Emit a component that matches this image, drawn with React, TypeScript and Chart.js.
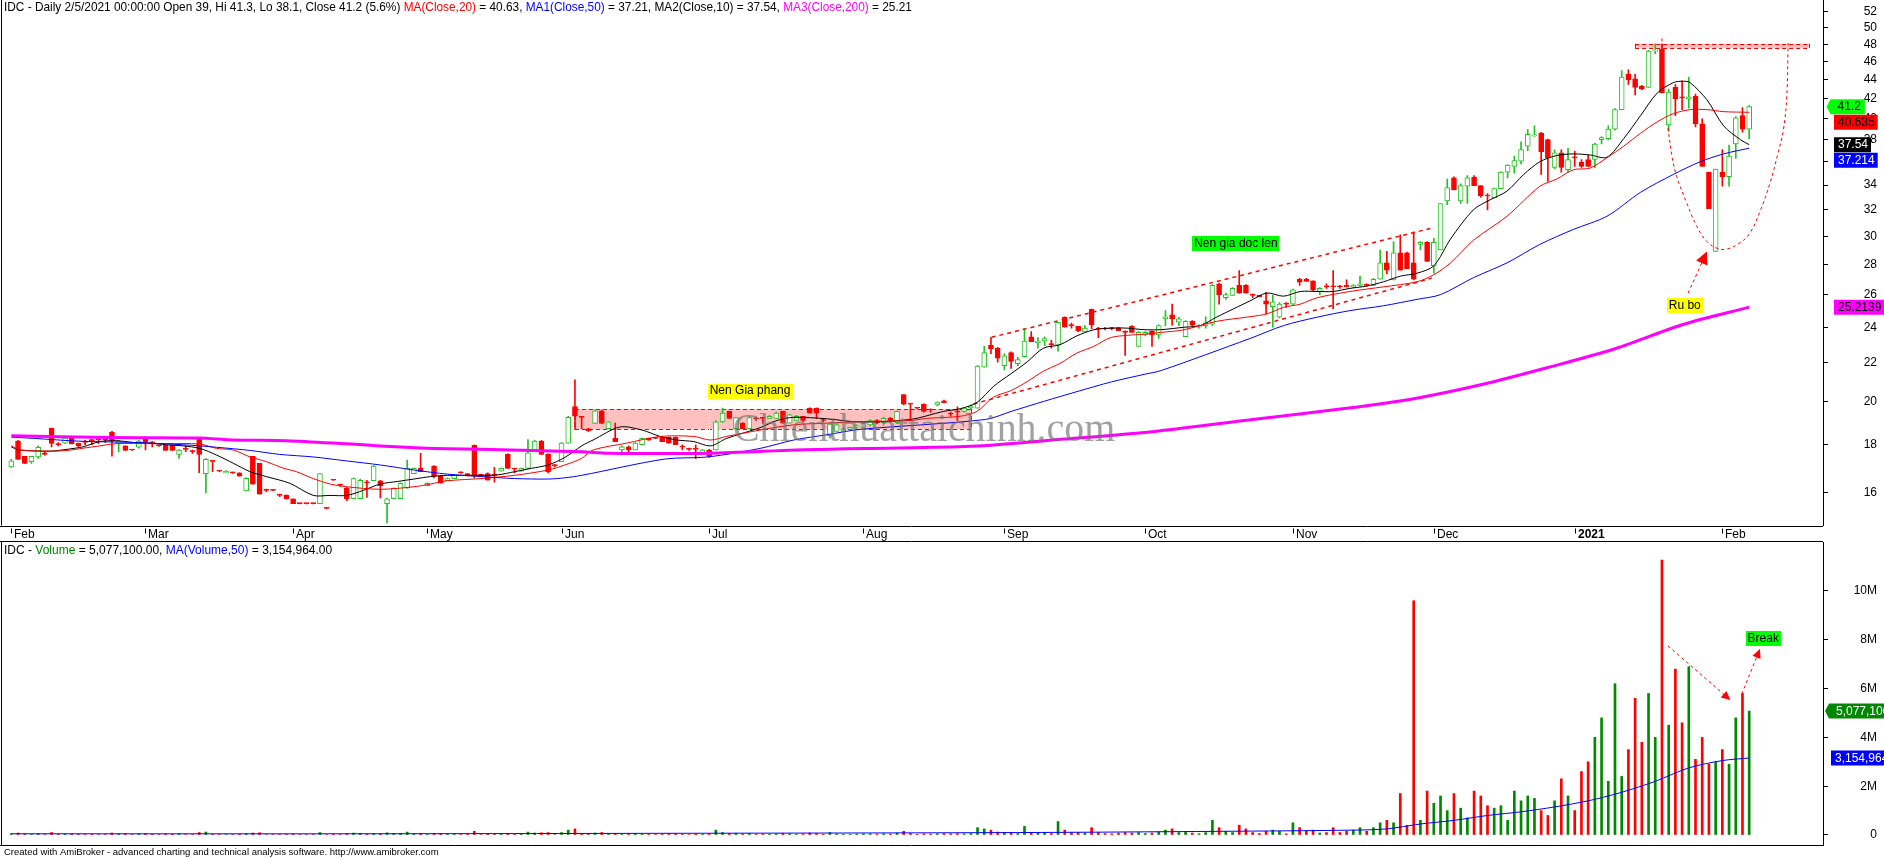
import React, { useEffect, useRef } from 'react';
import { Chart, registerables } from 'chart.js';
Chart.register(...registerables);

const FONT = '"Liberation Sans", Arial, Helvetica, sans-serif';

// ---------- DATA ----------
const opens = [17.05,18.16,17.5,17.27,17.47,17.65,18.75,18.05,18.07,18.29,18.07,18.12,18.2,18.25,18.25,18.57,18.04,17.95,17.78,17.89,
18.32,18.1,17.96,17.99,17.99,17.58,17.82,17.72,18.28,16.77,17.3,16.88,16.8,16.81,16.8,16.08,17.5,17.2,16.12,16.11,
15.92,15.9,15.77,15.59,15.59,15.59,15.58,15.41,16.51,16.32,16.18,15.77,15.77,16.42,16.48,16.48,15.58,15.77,15.77,16.18,
16.77,16.99,16.28,17.08,16.68,16.48,16.57,16.82,16.77,17.99,16.72,16.77,16.72,16.87,17.58,16.97,16.87,16.99,17.75,18.16,
17.58,17.12,17.27,18.07,19.77,19.3,18.72,18.96,19.56,18.72,18.28,17.77,17.91,17.77,18.0,18.28,18.29,18.33,18.33,18.33,
17.92,17.82,17.82,17.63,17.77,17.77,19.04,19.53,18.72,18.98,18.72,19.2,19.22,19.2,19.2,19.53,18.98,19.1,19.3,19.69,
19.69,19.15,18.4,18.6,18.6,18.7,18.8,18.75,18.9,19.1,19.0,19.2,19.0,20.35,19.9,19.7,19.88,19.62,19.85,20.05,
19.42,19.52,19.53,19.7,19.69,21.77,22.97,22.8,21.85,22.56,21.95,22.33,23.45,23.1,23.21,23.02,22.97,24.6,24.12,24.05,
23.73,25.08,23.92,23.92,23.95,23.97,23.78,24.05,22.9,23.55,23.78,23.55,24.5,24.75,24.3,23.45,24.35,24.0,24.1,24.18,
26.7,25.8,25.95,26.6,26.6,25.97,25.95,25.6,25.25,24.6,25.42,25.4,27.0,27.0,26.9,26.2,26.52,26.52,26.52,26.6,
26.5,26.6,26.62,26.6,27.0,28.1,26.95,28.8,28.8,28.1,29.4,29.55,27.9,29.0,32.7,34.6,32.7,33.9,34.65,33.95,
33.12,32.95,33.7,35.1,35.6,36.05,37.4,38.35,38.6,38.0,35.5,36.8,35.3,36.4,35.95,36.2,36.2,38.0,38.1,39.0,
40.9,44.6,44.1,43.3,43.2,47.2,47.4,39.4,43.2,42.15,42.0,42.25,39.5,35.1,28.9,35.1,34.7,37.6,40.3,39];
const highs = [17.37,18.2,17.5,17.5,17.95,17.68,18.75,18.1,18.32,18.3,18.07,18.2,18.24,18.3,18.3,18.6,18.2,17.95,17.8,18.2,
18.34,18.14,17.98,18.0,18.0,17.8,17.95,17.77,18.3,17.4,17.3,16.9,16.9,16.83,16.8,16.6,17.5,17.2,16.15,16.12,
15.95,15.92,15.77,15.6,15.6,15.6,16.77,15.42,16.52,16.35,16.22,16.6,16.55,16.5,17.1,16.5,15.8,16.2,16.4,17.34,
17.0,17.63,16.4,17.1,16.7,16.6,16.72,16.85,16.77,17.99,16.75,16.8,17.03,17.0,17.6,17.0,17.0,18.23,18.2,18.2,
17.6,17.15,18.1,19.3,21.1,19.3,18.75,19.6,19.6,19.05,18.98,17.95,17.95,18.1,18.3,18.3,18.3,18.35,18.35,18.35,
18.0,17.85,18.0,17.8,17.8,19.1,19.69,19.55,19.25,19.0,19.3,19.25,19.25,19.35,19.5,19.55,19.4,19.35,19.3,19.7,
19.7,19.2,18.95,18.95,18.75,18.8,18.9,19.0,19.15,19.15,19.25,19.25,19.55,20.35,19.9,19.72,19.9,19.65,20.0,20.08,
19.5,19.75,19.72,19.85,21.85,22.9,23.42,22.85,22.5,22.6,22.3,23.93,23.75,23.4,23.45,23.25,24.3,24.62,24.25,24.05,
24.1,25.1,24.0,24.0,24.0,24.0,23.8,24.1,23.75,23.75,23.8,24.15,25.0,25.4,24.6,24.4,24.4,24.15,24.63,26.65,
26.75,26.1,26.45,27.57,26.65,26.05,25.95,26.15,25.95,25.5,25.5,26.35,27.05,27.05,26.9,26.45,26.7,27.57,26.6,26.96,
26.65,27.2,26.7,27.05,29.0,28.9,29.6,30.1,28.85,30.3,29.6,29.6,29.85,32.5,34.5,34.7,34.1,34.8,34.8,33.95,
33.3,33.75,35.15,35.75,36.5,37.8,38.94,39.3,38.7,38.05,37.07,37.07,37.2,36.95,36.2,36.6,37.65,38.3,39.3,41.0,
45.0,45.1,44.6,43.4,47.3,48.06,48.0,43.0,43.5,43.9,44.3,42.5,40.0,35.1,35.35,37.1,37.5,40.2,41.1,41.3];
const lows = [17.03,17.37,17.2,17.2,17.41,17.55,17.9,17.95,18.05,18.04,17.9,18.0,18.0,18.05,18.1,17.5,17.69,17.75,17.75,17.85,
17.77,17.9,17.93,17.75,17.75,17.41,17.7,17.62,16.81,16.0,16.85,16.85,16.8,16.78,16.67,16.08,16.34,15.95,16.05,16.09,
15.85,15.75,15.58,15.57,15.57,15.57,15.58,15.38,16.49,16.25,15.7,15.77,15.77,15.82,16.48,15.8,14.86,15.77,15.77,16.18,
16.77,16.85,16.28,16.6,16.38,16.48,16.57,16.78,16.68,16.6,16.65,16.5,16.42,16.87,16.99,16.8,16.87,16.99,17.75,17.58,
16.8,17.05,17.27,18.07,18.69,18.72,18.6,18.96,18.96,18.72,18.14,17.7,17.6,17.77,18.0,18.2,18.27,18.14,18.07,18.0,
17.77,17.75,17.4,17.63,17.45,17.77,19.0,19.2,18.72,18.72,18.72,19.1,18.98,19.2,19.2,18.98,18.98,19.1,19.05,19.45,
19.2,19.05,18.3,18.6,18.6,18.7,18.75,18.75,18.85,18.95,18.95,19.05,18.95,19.85,19.1,19.65,19.5,19.5,19.8,19.95,
19.3,19.1,19.5,19.65,19.69,21.77,22.5,22.04,21.62,21.7,21.85,22.3,23.17,22.8,22.95,22.8,22.63,24.0,23.95,23.75,
23.73,23.9,23.4,23.85,23.85,23.8,22.4,23.7,22.9,23.5,22.9,23.35,24.1,24.13,24.1,23.45,24.05,23.95,23.95,24.1,
25.4,25.7,25.95,26.1,26.1,25.8,25.85,24.8,24.0,24.55,25.2,25.35,26.6,26.85,26.25,26.0,26.4,25.1,26.4,26.5,
26.45,26.55,26.55,26.6,27.0,27.35,26.95,27.6,27.7,26.95,29.0,28.2,27.4,29.0,32.4,33.6,32.5,32.5,33.95,33.0,
32.0,32.95,33.7,34.6,35.0,35.8,37.0,38.3,34.9,34.3,35.4,35.1,35.1,35.6,35.5,35.6,35.45,37.6,38.0,38.9,
40.9,43.5,42.4,42.95,43.2,46.9,42.6,38.8,40.3,40.9,41.05,39.2,35.6,32.1,28.9,33.9,33.9,36.3,38.7,38.1];
const closes = [17.3,17.37,17.2,17.5,17.89,17.58,18.06,18.0,18.3,18.04,17.95,18.1,18.18,18.22,18.22,18.16,18.16,17.75,17.77,18.16,
18.12,18.08,17.95,17.75,17.75,17.77,17.8,17.7,17.58,17.37,17.28,16.87,16.87,16.8,16.67,16.58,16.34,15.95,16.1,16.1,
15.9,15.77,15.58,15.58,15.58,15.58,16.77,15.4,16.5,16.3,15.77,16.57,16.5,16.4,17.08,16.28,15.77,16.18,16.38,16.99,
16.99,16.85,16.38,16.68,16.38,16.57,16.7,16.8,16.68,16.68,16.7,16.5,16.7,16.99,16.99,16.95,16.99,17.65,18.16,17.58,
16.85,17.1,18.07,19.25,19.31,19.25,18.63,19.56,18.96,19.04,18.14,17.91,17.77,18.07,18.28,18.2,18.28,18.14,18.07,18.0,
17.9,17.8,17.8,17.77,17.49,19.04,19.45,19.2,19.24,18.72,19.24,19.18,19.2,19.3,19.45,18.98,19.37,19.3,19.1,19.45,
19.45,19.1,18.93,18.9,18.7,18.78,18.85,18.98,19.1,19.0,19.2,19.1,19.53,19.88,19.88,19.69,19.53,19.6,19.98,19.95,
19.4,19.5,19.69,19.8,21.83,22.56,22.78,22.25,22.38,22.08,22.17,23.21,23.17,23.21,23.35,23.0,24.3,24.0,24.1,23.8,
23.95,24.16,23.9,23.9,23.92,23.8,23.7,23.7,23.7,23.7,23.55,24.1,24.63,24.5,24.5,24.35,24.13,24.1,24.27,26.6,
26.0,26.0,26.4,26.1,26.1,25.95,25.85,25.4,25.55,25.4,25.4,26.3,26.8,26.85,26.3,26.4,26.5,26.5,26.5,26.5,
26.6,26.7,26.6,27.0,28.1,27.6,28.8,27.6,27.7,27.0,29.55,28.2,29.55,32.5,33.8,33.6,33.95,34.6,33.95,33.1,
33.1,33.7,35.1,35.7,36.1,37.1,38.5,38.45,36.9,36.35,36.8,35.5,36.2,36.35,35.6,35.6,37.6,38.2,39.0,40.9,
44.3,44.0,43.2,43.0,47.2,47.3,42.6,42.7,42.0,42.1,42.2,39.5,35.6,32.1,35.35,34.7,36.5,40.1,39.0,41.2];
// volume in millions of shares
const volumesM = [0.05,0.08,0.04,0.03,0.06,0.02,0.1,0.03,0.04,0.05,0.03,0.02,0.03,0.02,0.02,0.08,0.04,0.05,0.02,0.04,
0.06,0.03,0.02,0.04,0.03,0.05,0.02,0.02,0.1,0.12,0.03,0.02,0.02,0.02,0.03,0.06,0.08,0.09,0.02,0.02,
0.02,0.03,0.04,0.02,0.02,0.02,0.1,0.02,0.03,0.02,0.05,0.08,0.07,0.04,0.06,0.05,0.09,0.06,0.07,0.12,
0.04,0.06,0.03,0.07,0.06,0.03,0.03,0.02,0.03,0.15,0.02,0.05,0.04,0.03,0.07,0.03,0.03,0.12,0.08,0.09,
0.1,0.02,0.1,0.2,0.25,0.06,0.04,0.08,0.1,0.05,0.06,0.04,0.05,0.06,0.05,0.03,0.02,0.04,0.05,0.05,
0.03,0.02,0.05,0.03,0.05,0.2,0.1,0.06,0.07,0.04,0.06,0.03,0.04,0.03,0.05,0.07,0.05,0.03,0.04,0.08,
0.06,0.03,0.1,0.05,0.03,0.03,0.04,0.05,0.05,0.04,0.05,0.04,0.08,0.15,0.06,0.03,0.05,0.04,0.05,0.06,
0.05,0.06,0.05,0.06,0.3,0.25,0.2,0.12,0.1,0.1,0.06,0.35,0.1,0.08,0.1,0.06,0.55,0.2,0.1,0.1,
0.08,0.3,0.1,0.06,0.05,0.08,0.1,0.08,0.1,0.06,0.08,0.12,0.2,0.25,0.1,0.15,0.08,0.05,0.1,0.6,
0.3,0.15,0.1,0.4,0.25,0.1,0.06,0.15,0.2,0.15,0.05,0.5,0.3,0.15,0.2,0.08,0.1,0.3,0.1,0.15,
0.2,0.3,0.15,0.3,0.5,0.6,0.5,1.7,0.4,9.6,0.6,1.8,1.3,1.6,1.0,1.7,1.1,0.7,1.8,1.6,
1.2,1.1,1.2,0.6,1.8,1.4,1.6,1.5,1.0,0.8,1.4,2.3,1.6,1.0,2.6,3.0,4.0,4.8,2.2,6.2,
2.4,3.5,5.6,3.8,5.8,4.0,11.27,4.5,6.8,4.6,6.9,3.1,4.0,2.9,3.0,3.5,2.9,4.8,5.8,5.0771];

// moving averages sampled along the curves: [bar index, value]
const ma10Points = [[0,17.9],[1.3,17.77],[5.8,17.72],[8.3,17.8],[10.7,17.91],[13.2,18.14],[15.7,18.18],[18.2,18.1],[20.7,18.07],[23.1,18.0],[25.6,17.95],[28.1,17.84],[30.6,17.55],[33.1,17.2],[35.6,16.85],[38,16.65],[41.5,16.38],[45,15.9],[47.5,15.9],[50,15.9],[52.5,16.1],[55,16.35],[57.5,16.45],[60,16.55],[62.5,16.65],[65,16.7],[70,16.7],[72.5,16.72],[75,16.85],[77.5,16.99],[80,17.13],[82.5,17.45],[85,17.95],[86.7,18.21],[90.7,18.8],[94,18.66],[96.7,18.37],[99.2,18.21],[101.7,18.14],[104.2,17.95],[106.6,18.28],[111.6,18.77],[114.1,19.1],[116.6,19.25],[121.6,19.18],[126.5,19.03],[134,19.15],[138.9,19.53],[141.4,19.66],[143.9,19.96],[146.4,20.77],[148.9,21.4],[151.4,22.05],[153.8,22.8],[156.3,23.0],[158.8,23.5],[161.3,23.85],[163.8,23.95],[166.3,23.95],[168.8,23.86],[171.3,23.86],[174.7,24.0],[177.2,24.1],[179.6,24.6],[182.1,25.1],[184.6,25.6],[187.1,26.1],[189.6,25.9],[192.1,26.2],[194.6,26.2],[197,26.2],[199.5,26.4],[202,26.55],[204.5,26.83],[207,27.2],[209.5,27.4],[212,27.9],[214.5,29.8],[217.9,32.0],[220.4,32.8],[222.9,33.5],[225.4,34.9],[227.8,36.0],[230.3,36.55],[232.8,36.7],[235.3,36.6],[237.8,36.4],[240.3,38.1],[242.8,40.3],[245.3,42.6],[247.7,43.7],[249.2,43.85],[250.2,43.7],[252.7,41.9],[255.2,39.3],[257.7,38.0],[259,37.54]];
const ma20Points = [[0,17.95],[1.3,17.77],[5.8,17.72],[8.3,17.75],[10.7,17.85],[13.2,17.95],[15.7,18.05],[20.7,18.05],[23.1,18.05],[28.1,18.03],[30.6,17.84],[33.1,17.77],[35.6,17.47],[38,17.27],[40.5,17.0],[42.5,16.85],[45,16.57],[47.5,16.35],[50,16.24],[55,16.14],[60,16.24],[62.5,16.35],[65,16.48],[70,16.57],[75,16.7],[80,16.92],[82.5,17.13],[85,17.41],[86.7,17.77],[91.7,18.07],[96.7,18.37],[101.7,18.37],[104.2,18.21],[106.6,18.37],[111.6,18.66],[116.6,18.9],[121.6,18.98],[126.5,19.05],[134,19.1],[136.4,19.2],[141.4,19.3],[143.9,19.53],[146.4,20.23],[148.9,20.54],[151.4,21.01],[153.8,21.55],[156.3,21.97],[158.8,22.53],[161.3,22.9],[163.8,23.4],[166.3,23.53],[168.8,23.6],[171.3,23.7],[174.7,23.85],[179.6,24.35],[184.6,24.63],[187.1,24.8],[189.6,25.2],[192.1,25.4],[194.6,25.8],[199.5,26.2],[204.5,26.5],[209.5,26.83],[212,27.3],[214.5,28.1],[217.9,29.7],[222.9,31.5],[227.8,33.9],[230.3,34.5],[232.8,35.3],[235.3,35.45],[237.8,36.35],[240.3,37.4],[242.8,38.6],[245.3,39.7],[247.7,40.5],[250.2,40.9],[252.7,40.9],[255.2,40.7],[259,40.635]];
const ma50Points = [[0,18.34],[3.5,18.28],[10,18.16],[18.2,18.1],[25.6,18.0],[30.6,17.89],[35.6,17.75],[40,17.58],[45,17.47],[50,17.3],[55,17.13],[60,16.92],[65,16.75],[70,16.65],[75,16.57],[80,16.55],[82.5,16.6],[85,16.7],[97.4,17.38],[103.8,17.47],[111.6,17.84],[116.6,18.21],[121.6,18.45],[126.5,18.69],[145.2,19.15],[149,19.53],[154,20.03],[159,20.52],[164,21.0],[169,21.4],[171.3,21.58],[184.6,23.35],[189.6,24.1],[194.6,24.6],[199.5,25.0],[204.5,25.3],[209.5,25.7],[213,26.0],[217.9,27.1],[222.9,28.1],[227.8,29.4],[232.8,30.5],[237.8,31.5],[242.8,33.4],[247.7,34.9],[251.7,36.0],[255.2,36.7],[259,37.214]];
const ma200Points = [[0,18.4],[15,18.32],[28,18.3],[33,18.21],[41,18.18],[50,18.04],[55,17.95],[61,17.86],[65,17.82],[70,17.8],[85,17.69],[89,17.63],[104,17.63],[117,17.77],[122,17.8],[127,17.84],[143,17.93],[157,18.25],[171,18.62],[185,19.15],[199,19.68],[209,20.15],[219,20.85],[229,21.75],[239,22.77],[249,24.15],[259,25.2139]];
const volMaPoints = [[0,0.05],[50,0.05],[100,0.07],[150,0.1],[180,0.15],[200,0.2],[205,0.25],[210,0.45],[215,0.6],[220,0.8],[225,0.95],[230,1.15],[235,1.4],[240,1.75],[245,2.2],[250,2.75],[255,3.05],[259,3.154964]];

const monthTickIdx = [0,20,42,62,82,104,127,148,169,191,212,233,255];
const monthLabels = ['Feb','Mar','Apr','May','Jun','Jul','Aug','Sep','Oct','Nov','Dec','2021','Feb'];
const priceTicks = [16,18,20,22,24,26,28,30,32,34,36,38,40,42,44,46,48,50,52];
const volumeTicks = [0,2,4,6,8,10];
const volumeTickLabels = ['0','2M','4M','6M','8M','10M'];

// annotations (bar index, price)
const flatZone = { i0: 84, i1: 143, top: 19.65, bottom: 18.69 };
const topZone = { i0: 242, i1: 267.9, top: 48.06, bottom: 47.56 };
const channelUpper = [[146.1,23.42],[211.7,30.6]];
const channelLower = [[143.4,19.89],[211.7,27.07]];
const cupPoints = [[246.9,39.1],[247.5,36.47],[248.2,34.73],[249.7,32.53],[251.2,30.72],[252.7,29.61],[254.2,29.13],[255.6,29.06],[257.6,29.51],[259.1,30.22],[260.6,31.86],[262.1,34.17],[263.3,36.78],[264.1,38.94],[264.6,42.25],[264.8,48.14]];
const peakMark = [[246,48.7],[246,47.4]];
const ruBoArrow = [[249.9,26.09],[252.7,28.9]];
const priceNotes = [
  { text: 'Nen Gia phang', i: 110.1, v: 20.55, bg: '#ffff00' },
  { text: 'Nen gia doc len', i: 182.5, v: 29.49, bg: '#00ff00' },
  { text: 'Ru bo', i: 249.4, v: 25.32, bg: '#ffff00' },
];
const volNotes = [{ text: 'Break', i: 261.1, v: 8.07, bg: '#00ff00' }];
const volArrow1 = [[246.9,7.75],[256.2,5.53]];
const volArrow2 = [[257.9,5.78],[260.6,7.62]];

// ---------- LAYOUT CONSTANTS ----------
const W = 1884;
const PRICE_H = 542;
const VOL_H = 317;
const X_MIN = -1.535, X_MAX = 270.0;
const P_MIN = 14.77, P_MAX = 53.5;
const V_MIN = -0.41, V_MAX = 12.008;
const GREEN = '#22c322';
const RED = '#ff0000';
const VGREEN = '#008800';

const pts = (a: number[][]) => a.map(([x, y]) => ({ x, y }));
const lastOf = (a: number[][]) => a[a.length - 1][1];

function drawTag(ctx: any, text: string, yc: number, bg: string, fg: string, x0: number, arrow: boolean) {
  ctx.save();
  ctx.font = '12px ' + FONT;
  const tw = ctx.measureText(text).width;
  const h = 15;
  ctx.fillStyle = bg;
  ctx.beginPath();
  if (arrow) {
    const bx = x0 + 4;
    ctx.moveTo(x0, yc);
    ctx.lineTo(bx, yc - h / 2);
    ctx.lineTo(bx + tw + 11, yc - h / 2);
    ctx.lineTo(bx + tw + 11, yc + h / 2);
    ctx.lineTo(bx, yc + h / 2);
    ctx.closePath();
    ctx.fill();
    ctx.fillStyle = fg;
    ctx.textBaseline = 'middle';
    ctx.fillText(text, bx + 7, yc + 0.5);
  } else {
    ctx.rect(x0, yc - h / 2, tw + 7, h);
    ctx.fill();
    ctx.fillStyle = fg;
    ctx.textBaseline = 'middle';
    ctx.fillText(text, x0 + 4, yc + 0.5);
  }
  ctx.restore();
}

function drawNote(ctx: any, n: any, x: number, y: number) {
  ctx.save();
  ctx.font = '12px ' + FONT;
  const tw = ctx.measureText(n.text).width;
  ctx.fillStyle = n.bg;
  ctx.fillRect(Math.round(x - tw / 2 - 2), Math.round(y - 7), Math.round(tw + 4), 15);
  ctx.fillStyle = '#000';
  ctx.textBaseline = 'middle';
  ctx.textAlign = 'center';
  ctx.fillText(n.text, x, y + 0.5);
  ctx.restore();
}

function arrowHead(ctx: any, x0: number, y0: number, x1: number, y1: number, size: number) {
  const a = Math.atan2(y1 - y0, x1 - x0);
  ctx.save();
  ctx.fillStyle = RED;
  ctx.beginPath();
  ctx.moveTo(x1, y1);
  ctx.lineTo(x1 - size * Math.cos(a - 0.45), y1 - size * Math.sin(a - 0.45));
  ctx.lineTo(x1 - size * Math.cos(a + 0.45), y1 - size * Math.sin(a + 0.45));
  ctx.closePath();
  ctx.fill();
  ctx.restore();
}

function drawSegments(ctx: any, parts: [string, string][], x: number, y: number) {
  let cx = x;
  for (const [t, c] of parts) {
    ctx.fillStyle = c;
    ctx.fillText(t, cx, y);
    cx += ctx.measureText(t).width;
  }
}

const priceExtras = {
  id: 'priceExtras',
  beforeDatasetsDraw(chart: any) {
    const { ctx, chartArea: a, scales: { x, y } } = chart;
    ctx.save();
    for (const z of [flatZone, topZone]) {
      const x0 = x.getPixelForValue(z.i0), x1 = x.getPixelForValue(z.i1);
      const y0 = y.getPixelForValue(z.top), y1 = y.getPixelForValue(z.bottom);
      ctx.fillStyle = '#ffc0c0';
      ctx.fillRect(x0, y0, x1 - x0, y1 - y0);
      ctx.strokeStyle = RED;
      ctx.lineWidth = 1;
      ctx.setLineDash([4, 3]);
      ctx.beginPath();
      ctx.moveTo(x0, Math.round(y0) + 0.5); ctx.lineTo(x1, Math.round(y0) + 0.5);
      ctx.moveTo(x0, Math.round(y1) + 0.5); ctx.lineTo(x1, Math.round(y1) + 0.5);
      ctx.moveTo(Math.round(x0) + 0.5, y0); ctx.lineTo(Math.round(x0) + 0.5, y1);
      ctx.moveTo(Math.round(x1) + 0.5, y0); ctx.lineTo(Math.round(x1) + 0.5, y1);
      ctx.stroke();
    }
    // month separators (white dotted, visible only over the shaded zones)
    ctx.strokeStyle = '#ffffff';
    ctx.setLineDash([1, 2]);
    ctx.beginPath();
    for (const mi of monthTickIdx) {
      const px = Math.round(x.getPixelForValue(mi)) + 0.5;
      ctx.moveTo(px, a.top); ctx.lineTo(px, a.bottom);
    }
    ctx.stroke();
    ctx.restore();
  },
  afterDatasetsDraw(chart: any) {
    const { ctx, scales: { x, y } } = chart;
    ctx.save();
    ctx.font = '36px "Liberation Serif", "Times New Roman", serif';
    const wm = 'Chienthuattaichinh.com';
    const ww = ctx.measureText(wm).width;
    const fs = 36 * 382 / ww;
    ctx.font = fs.toFixed(1) + 'px "Liberation Serif", "Times New Roman", serif';
    ctx.fillStyle = 'rgba(110,110,110,0.65)';
    ctx.textBaseline = 'middle';
    ctx.fillText(wm, 733, 431);
    for (const n of priceNotes) drawNote(ctx, n, x.getPixelForValue(n.i), y.getPixelForValue(n.v));
    arrowHead(ctx, x.getPixelForValue(ruBoArrow[0][0]), y.getPixelForValue(ruBoArrow[0][1]),
      x.getPixelForValue(ruBoArrow[1][0]), y.getPixelForValue(ruBoArrow[1][1]), 14);
    ctx.restore();
  },
  afterDraw(chart: any) {
    const { ctx, chartArea: a, scales: { x, y } } = chart;
    ctx.save();
    ctx.strokeStyle = '#000';
    ctx.lineWidth = 1;
    ctx.beginPath();
    ctx.moveTo(1.5, 0); ctx.lineTo(1.5, a.bottom);
    ctx.moveTo(0, Math.round(a.bottom) + 0.5); ctx.lineTo(a.right, Math.round(a.bottom) + 0.5);
    ctx.moveTo(0, PRICE_H - 0.5); ctx.lineTo(a.right, PRICE_H - 0.5);
    ctx.stroke();
    ctx.font = '12px ' + FONT;
    ctx.textBaseline = 'middle';
    monthTickIdx.forEach((mi, k) => {
      const px = Math.round(x.getPixelForValue(mi)) + 0.5;
      ctx.beginPath();
      ctx.moveTo(px, a.bottom + 3); ctx.lineTo(px, a.bottom + 8);
      ctx.stroke();
      ctx.font = (monthLabels[k] === '2021' ? 'bold ' : '') + '12px ' + FONT;
      ctx.fillStyle = '#000';
      ctx.fillText(monthLabels[k], px + 2.5, a.bottom + 9);
    });
    const L = closes.length - 1;
    const chg = ((closes[L] / closes[L - 1] - 1) * 100).toFixed(1);
    ctx.font = '11.85px ' + FONT;
    ctx.textBaseline = 'middle';
    drawSegments(ctx, [
      [`IDC - Daily 2/5/2021 00:00:00 Open ${opens[L]}, Hi ${highs[L]}, Lo ${lows[L]}, Close ${closes[L]} (${chg}%) `, '#000'],
      ['MA(Close,20)', RED], [` = ${lastOf(ma20Points).toFixed(2)}, `, '#000'],
      ['MA1(Close,50)', '#0000ff'], [` = ${lastOf(ma50Points).toFixed(2)}, `, '#000'],
      ['MA2(Close,10)', '#000'], [` = ${lastOf(ma10Points).toFixed(2)}, `, '#000'],
      ['MA3(Close,200)', '#ff00ff'], [` = ${lastOf(ma200Points).toFixed(2)}`, '#000'],
    ], 4, 8);
    const tags = [
      { v: closes[L], t: String(closes[L]), bg: '#00ff00', fg: '#000', arrow: true },
      { v: lastOf(ma20Points), t: String(lastOf(ma20Points)), bg: RED, fg: '#000', arrow: false },
      { v: lastOf(ma10Points), t: String(lastOf(ma10Points)), bg: '#000', fg: '#fff', arrow: false },
      { v: lastOf(ma50Points), t: String(lastOf(ma50Points)), bg: '#0000ff', fg: '#fff', arrow: false },
      { v: lastOf(ma200Points), t: String(lastOf(ma200Points)), bg: '#ff00ff', fg: '#000', arrow: false },
    ];
    let prev = -100;
    for (const tg of tags) {
      let yc = y.getPixelForValue(tg.v);
      if (yc < prev + 15.5) yc = prev + 15.5;
      prev = yc;
      drawTag(ctx, tg.t, yc, tg.bg, tg.fg, tg.arrow ? 1826.5 : 1834, tg.arrow);
    }
    ctx.restore();
  },
};

const volExtras = {
  id: 'volExtras',
  afterDatasetsDraw(chart: any) {
    const { ctx, scales: { x, y } } = chart;
    ctx.save();
    for (const n of volNotes) drawNote(ctx, n, x.getPixelForValue(n.i), y.getPixelForValue(n.v));
    for (const ar of [volArrow1, volArrow2]) {
      arrowHead(ctx, x.getPixelForValue(ar[0][0]), y.getPixelForValue(ar[0][1]),
        x.getPixelForValue(ar[1][0]), y.getPixelForValue(ar[1][1]), 10);
    }
    ctx.restore();
  },
  afterDraw(chart: any) {
    const { ctx, chartArea: a, scales: { y } } = chart;
    ctx.save();
    ctx.strokeStyle = '#000';
    ctx.lineWidth = 1;
    ctx.beginPath();
    ctx.moveTo(1.5, 0); ctx.lineTo(1.5, a.bottom);
    ctx.moveTo(0, Math.round(a.bottom) + 0.5); ctx.lineTo(a.right, Math.round(a.bottom) + 0.5);
    ctx.stroke();
    const L = volumesM.length - 1;
    const vol = Math.round(volumesM[L] * 1e6);
    const vma = Math.round(lastOf(volMaPoints) * 1e6);
    const f = (v: number) => v.toLocaleString('en-US', { minimumFractionDigits: 2, maximumFractionDigits: 2 });
    ctx.font = '12px ' + FONT;
    ctx.textBaseline = 'middle';
    drawSegments(ctx, [
      ['IDC - ', '#000'], ['Volume', '#008800'], [` = ${f(vol)}, `, '#000'],
      ['MA(Volume,50)', '#0000ff'], [` = ${f(vma)}`, '#000'],
    ], 4, 9);
    ctx.font = '9.5px ' + FONT;
    ctx.fillStyle = '#000';
    ctx.fillText('Created with AmiBroker - advanced charting and technical analysis software. http://www.amibroker.com', 4, 310);
    drawTag(ctx, vol.toLocaleString('en-US'), y.getPixelForValue(volumesM[L]), VGREEN, '#fff', 1825, true);
    drawTag(ctx, vma.toLocaleString('en-US'), y.getPixelForValue(lastOf(volMaPoints)), '#0000ff', '#fff', 1831, false);
    ctx.restore();
  },
};

function lineDs(data: any[], color: string, width: number, dash: number[] = [], tension = 0.3) {
  return {
    type: 'line', data, borderColor: color, borderWidth: width, borderDash: dash,
    pointRadius: 0, tension, fill: false, order: 0,
  } as any;
}

function priceConfig(): any {
  const idx = closes.map((_, i) => i);
  const up = idx.map(i => closes[i] >= opens[i]);
  const wick = idx.map(i => ({ x: i, y: [lows[i], highs[i]] }));
  const body = idx.map(i => ({ x: i, y: [Math.min(opens[i], closes[i]), Math.max(opens[i], closes[i])] }));
  return {
    type: 'bar',
    data: {
      datasets: [
        lineDs(pts(ma200Points), '#ff00ff', 3),
        lineDs(pts(ma50Points), '#0000ff', 1),
        lineDs(pts(ma20Points), RED, 1),
        lineDs(pts(ma10Points), '#000', 1),
        lineDs(pts(channelUpper), RED, 1.5, [4, 4], 0),
        lineDs(pts(channelLower), RED, 1.5, [4, 4], 0),
        lineDs(pts(cupPoints), RED, 1, [3, 3], 0.4),
        lineDs(pts(peakMark), RED, 1, [3, 2], 0),
        lineDs(pts(ruBoArrow), RED, 1, [3, 3], 0),
        {
          type: 'bar', data: body, grouped: false, barThickness: 5, minBarLength: 1,
          borderSkipped: false, borderWidth: 1,
          backgroundColor: (c: any) => (up[c.dataIndex] ? '#ffffff' : RED),
          borderColor: (c: any) => (up[c.dataIndex] ? GREEN : RED),
          order: 1,
        },
        {
          type: 'bar', data: wick, grouped: false, barThickness: 1, minBarLength: 1,
          borderWidth: 0,
          backgroundColor: (c: any) => (up[c.dataIndex] ? GREEN : RED),
          order: 2,
        },
      ],
    },
    options: {
      animation: false, responsive: false, devicePixelRatio: 1, events: [],
      layout: { padding: { left: 1, right: 7, top: 0, bottom: PRICE_H - 525.5 } },
      plugins: { legend: { display: false }, tooltip: { enabled: false } },
      scales: {
        x: { type: 'linear', min: X_MIN, max: X_MAX, display: false, offset: false },
        y: {
          type: 'logarithmic', position: 'right', min: P_MIN, max: P_MAX,
          afterBuildTicks: (s: any) => { s.ticks = priceTicks.map(v => ({ value: v })); },
          afterFit: (s: any) => { s.width = 54; s.paddingTop = 0; s.paddingBottom = 0; },
          grid: { drawOnChartArea: false, drawTicks: true, tickLength: 5, color: '#000' },
          border: { display: true, color: '#000' },
          ticks: { callback: (v: any) => String(v), font: { family: FONT, size: 12 }, color: '#000', padding: 35, crossAlign: 'far', autoSkip: false, maxRotation: 0 },
        },
      },
    },
    plugins: [priceExtras],
  };
}

function volConfig(): any {
  const idx = volumesM.map((_, i) => i);
  const up = idx.map(i => closes[i] >= opens[i]);
  return {
    type: 'bar',
    data: {
      datasets: [
        lineDs(pts(volMaPoints), '#0000ff', 1),
        lineDs(pts(volArrow1), RED, 1, [3, 3], 0),
        lineDs(pts(volArrow2), RED, 1, [3, 3], 0),
        {
          type: 'bar', data: idx.map(i => ({ x: i, y: volumesM[i] })), grouped: false, barThickness: 2,
          borderWidth: 0, backgroundColor: (c: any) => (up[c.dataIndex] ? VGREEN : RED), order: 1,
        },
      ],
    },
    options: {
      animation: false, responsive: false, devicePixelRatio: 1, events: [],
      layout: { padding: { left: 1, right: 7, top: 0, bottom: VOL_H - 303 } },
      plugins: { legend: { display: false }, tooltip: { enabled: false } },
      scales: {
        x: { type: 'linear', min: X_MIN, max: X_MAX, display: false, offset: false },
        y: {
          type: 'linear', position: 'right', min: V_MIN, max: V_MAX,
          afterBuildTicks: (s: any) => { s.ticks = volumeTicks.map(v => ({ value: v })); },
          afterFit: (s: any) => { s.width = 54; s.paddingTop = 0; s.paddingBottom = 0; },
          grid: { drawOnChartArea: false, drawTicks: true, tickLength: 5, color: '#000' },
          border: { display: true, color: '#000' },
          ticks: { callback: (v: any) => volumeTickLabels[volumeTicks.indexOf(v)] ?? '', font: { family: FONT, size: 12 }, color: '#000', padding: 35, crossAlign: 'far', autoSkip: false, maxRotation: 0 },
        },
      },
    },
    plugins: [volExtras],
  };
}

export default function App() {
  const pRef = useRef<HTMLCanvasElement>(null);
  const vRef = useRef<HTMLCanvasElement>(null);
  useEffect(() => {
    const c1 = new Chart(pRef.current as any, priceConfig());
    const c2 = new Chart(vRef.current as any, volConfig());
    return () => { c1.destroy(); c2.destroy(); };
  }, []);
  return (
    <div style={{ position: 'fixed', left: 0, top: 0, width: W, height: PRICE_H + VOL_H, background: '#fff', overflow: 'hidden' }}>
      <canvas ref={pRef} width={W} height={PRICE_H} style={{ position: 'absolute', left: 0, top: 0, width: W, height: PRICE_H }} />
      <canvas ref={vRef} width={W} height={VOL_H} style={{ position: 'absolute', left: 0, top: PRICE_H, width: W, height: VOL_H }} />
    </div>
  );
}
